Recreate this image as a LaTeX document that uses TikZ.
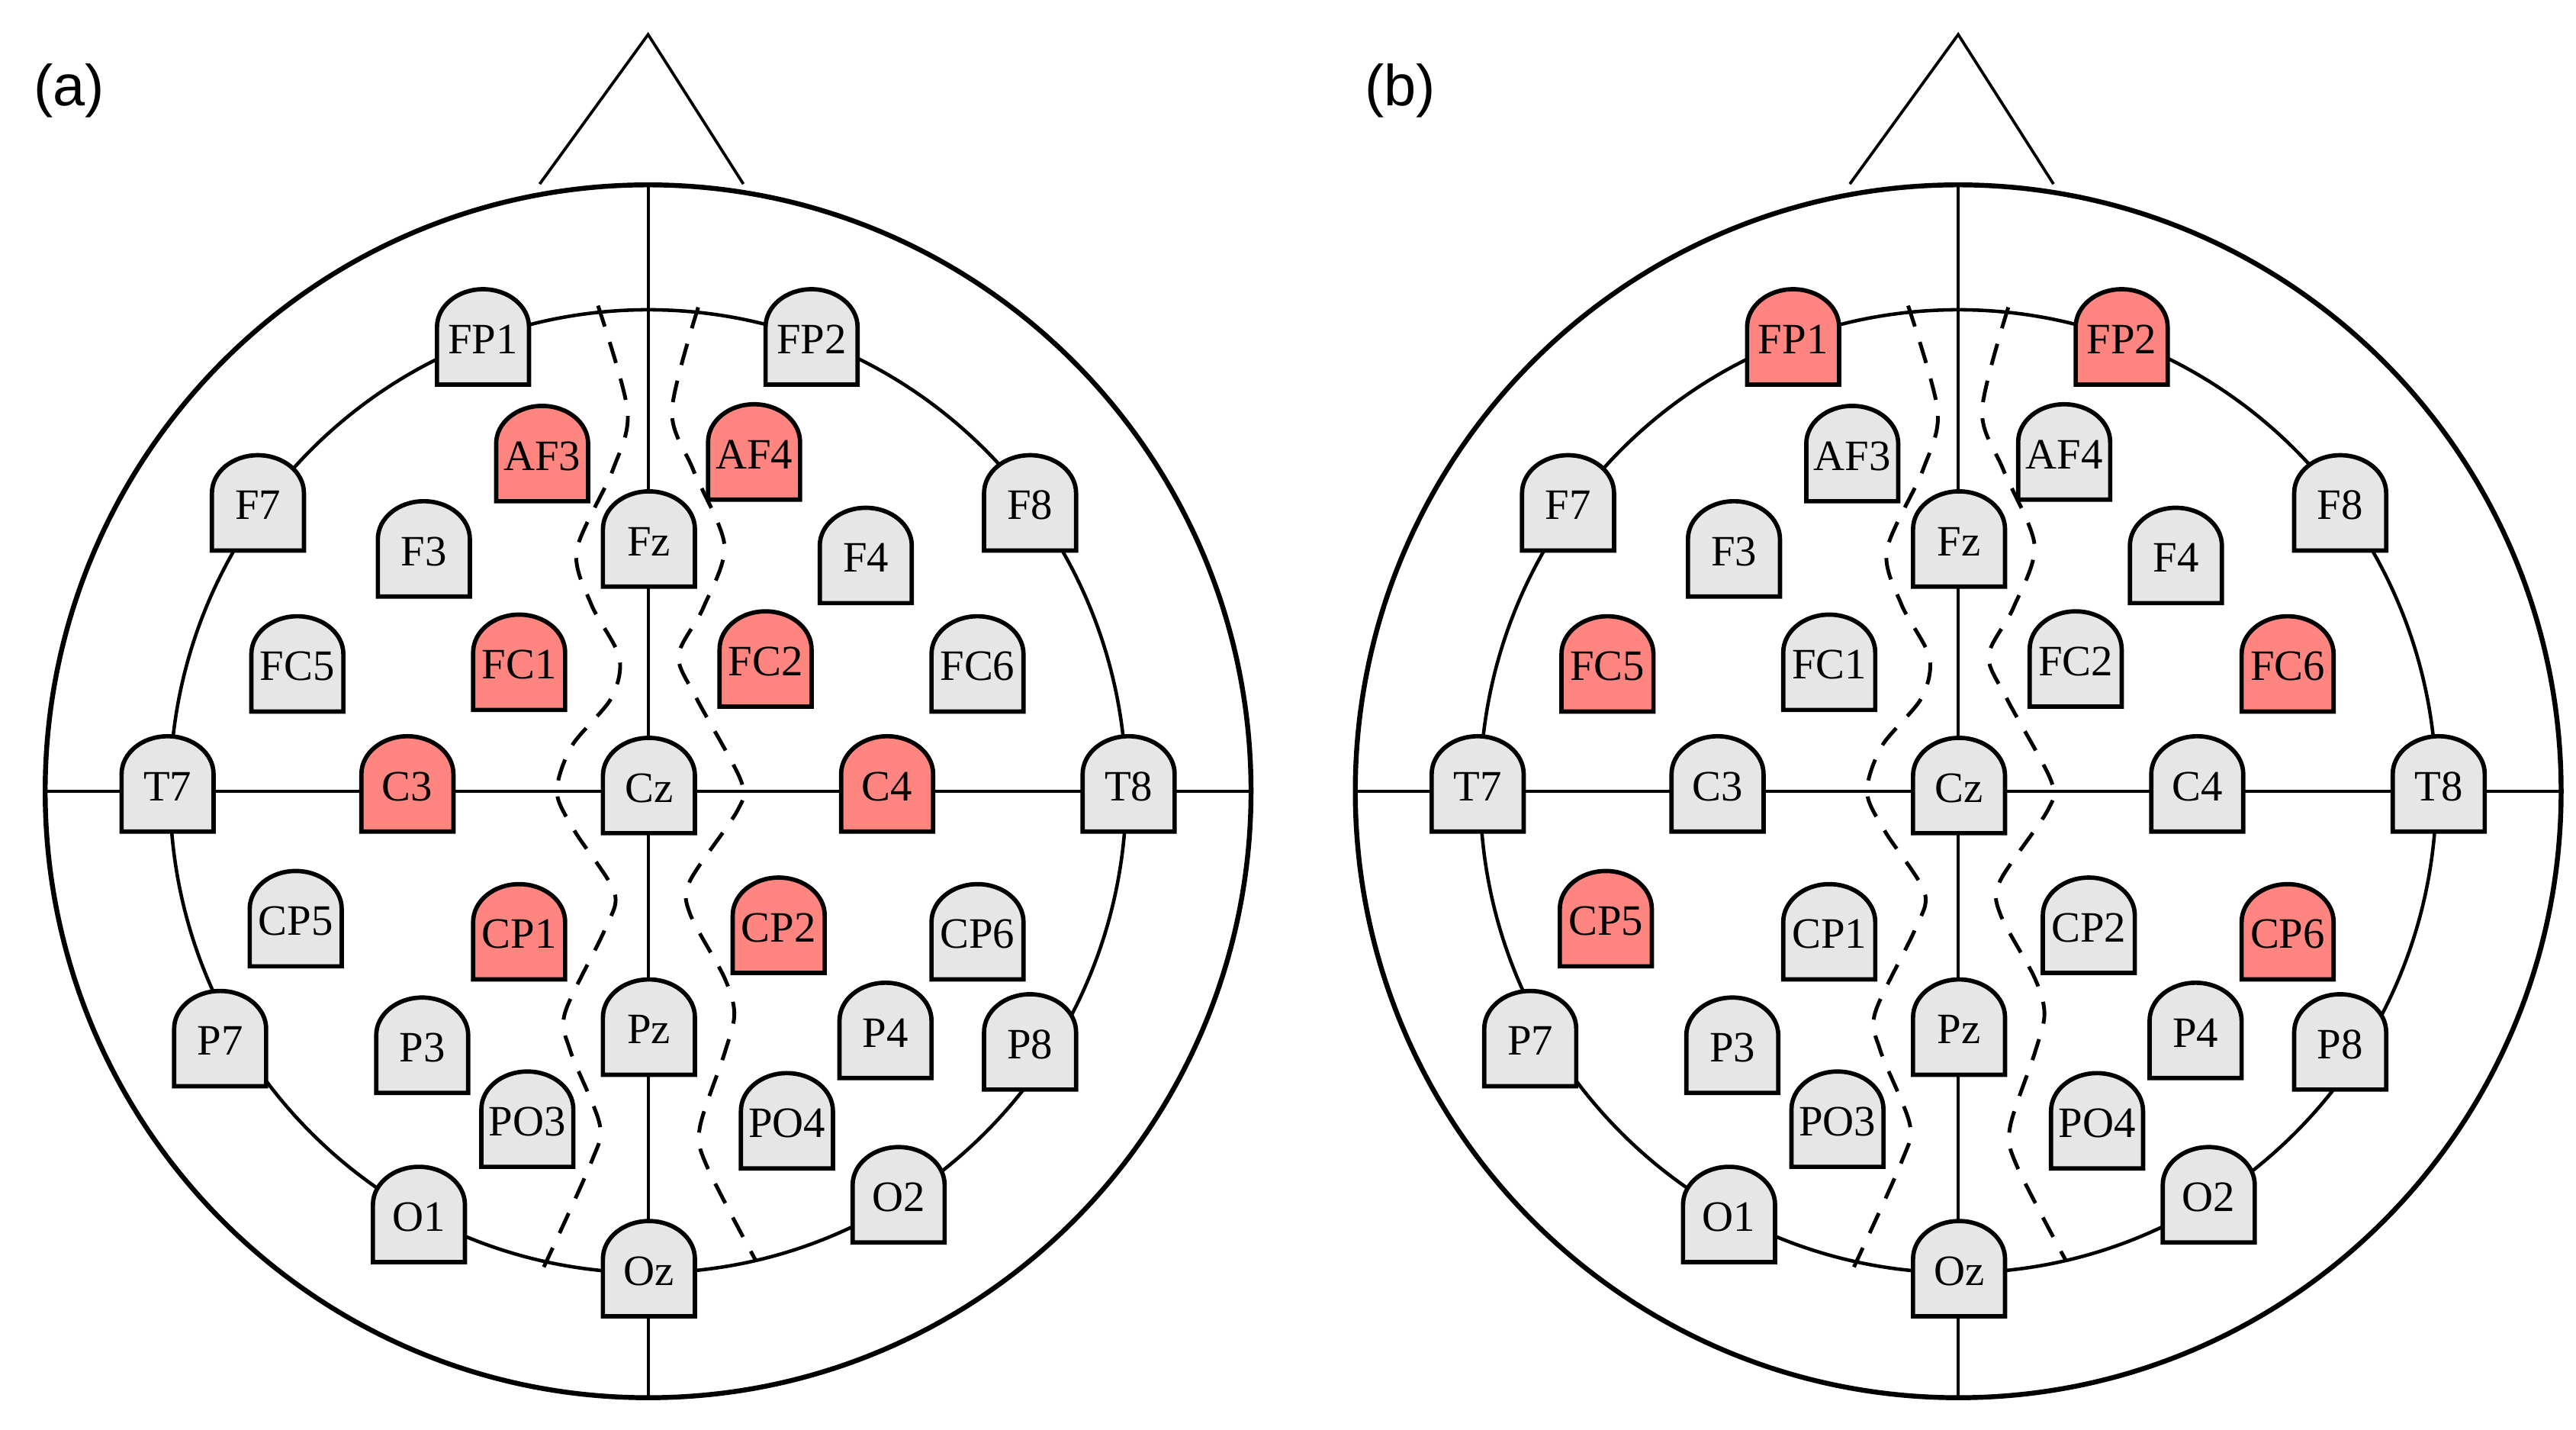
\documentclass[tikz,border=0pt]{standalone}
\usepackage{fontspec}
\setmainfont{Liberation Serif}
\newfontfamily\panelfont{Liberation Sans}
\definecolor{idle}{HTML}{E6E6E6}
\definecolor{active}{RGB}{255,134,128}

\begin{document}
\begin{tikzpicture}[
  x=0.01cm, y=0.01cm,
  head/.style={line width=0.85pt},
  ring/.style={line width=0.6pt},
  axis/.style={line width=0.5pt},
  nose/.style={line width=0.5pt},
  divide/.style={line width=0.65pt, dash pattern=on 3.8pt off 2.8pt},
  electrode/.style={draw=black, line width=0.75pt},
  elabel/.style={inner sep=0pt, font=\fontsize{7.5}{8}\selectfont},
  plabel/.style={inner sep=0pt, font=\panelfont\fontsize{10}{12}\selectfont}
]
\useasboundingbox (0,0) rectangle (1568,870);

% --- zwei Koepfe: (a) links, (b) rechts ---
\foreach \panel/\dx/\k/\lx in {a/0/1/42, b/7.97/2/55}{
\begin{scope}[xshift=\dx cm]
  \node[plabel] (lbl-\panel) at (\lx,815) {(\panel)};

  % Kopfumriss, Nase, Achsen
  \coordinate (c-\panel) at (394.5,388.5);
  \draw[head] (c-\panel) ellipse[x radius=367, y radius=369];
  \draw[ring] (c-\panel) ellipse[x radius=291, y radius=293];
  \draw[nose] (328.5,758) -- (394.5,849) -- (452.5,758);
  \draw[axis] (394.5,19.5) -- (394.5,757.5);
  \draw[axis] (27.5,388.5) -- (761.5,388.5);

  % gestrichelte Trennlinien
  \draw[divide] plot[smooth] coordinates {(364,684) (382,620) (373,584) (351,535) (360,502)
    (377,470) (372,445) (348,416) (339,388) (350,364) (374,327) (368,304) (344,254)
    (347,231) (365,186) (360,163) (331,99)};
  \draw[divide] plot[smooth] coordinates {(425,683) (409,620) (422,584) (441,538) (428,500)
    (413,471) (424,445) (451,395) (449,377) (420,334) (420,314) (441,275) (447,253)
    (441,229) (426,184) (430,161) (460,103)};

  % Elektroden: Name / x / y / Farbe in (a) / Farbe in (b)
  \foreach \name/\x/\y/\ca/\cb in {
      FP1/294/665/idle/active, FP2/494/665/idle/active,
      AF3/330/594/active/idle, AF4/459/595/active/idle,
      F7/157/564/idle/idle, F8/627/564/idle/idle, F3/258/536/idle/idle,
      Fz/395/542/idle/idle, F4/527/532/idle/idle,
      FC5/181/466/idle/active, FC1/316/467/active/idle,
      FC2/466/469/active/idle, FC6/595/466/idle/active,
      T7/102/393/idle/idle, C3/248/393/active/idle, Cz/395/392/idle/idle,
      C4/540/393/active/idle, T8/687/393/idle/idle,
      CP5/180/311/idle/active, CP1/316/303/active/idle,
      CP2/474/307/active/idle, CP6/595/303/idle/active,
      P7/134/238/idle/idle, P3/257/234/idle/idle, Pz/395/245/idle/idle,
      P4/539/243/idle/idle, P8/627/236/idle/idle,
      PO3/321/189/idle/idle, PO4/479/188/idle/idle,
      O1/255/131/idle/idle, O2/547/143/idle/idle, Oz/395/98/idle/idle}{
    \ifnum\k=1 \edef\fillc{\ca}\else\edef\fillc{\cb}\fi
    \filldraw[electrode, fill=\fillc] (\x-28,\y-29) -- ++(56,0) -- ++(0,35)
      arc[start angle=0, end angle=180, x radius=28, y radius=23] -- cycle;
    \node[elabel] (\panel-\name) at (\x,\y-1.5) {\name};
  }
\end{scope}
}
\end{tikzpicture}
\end{document}
